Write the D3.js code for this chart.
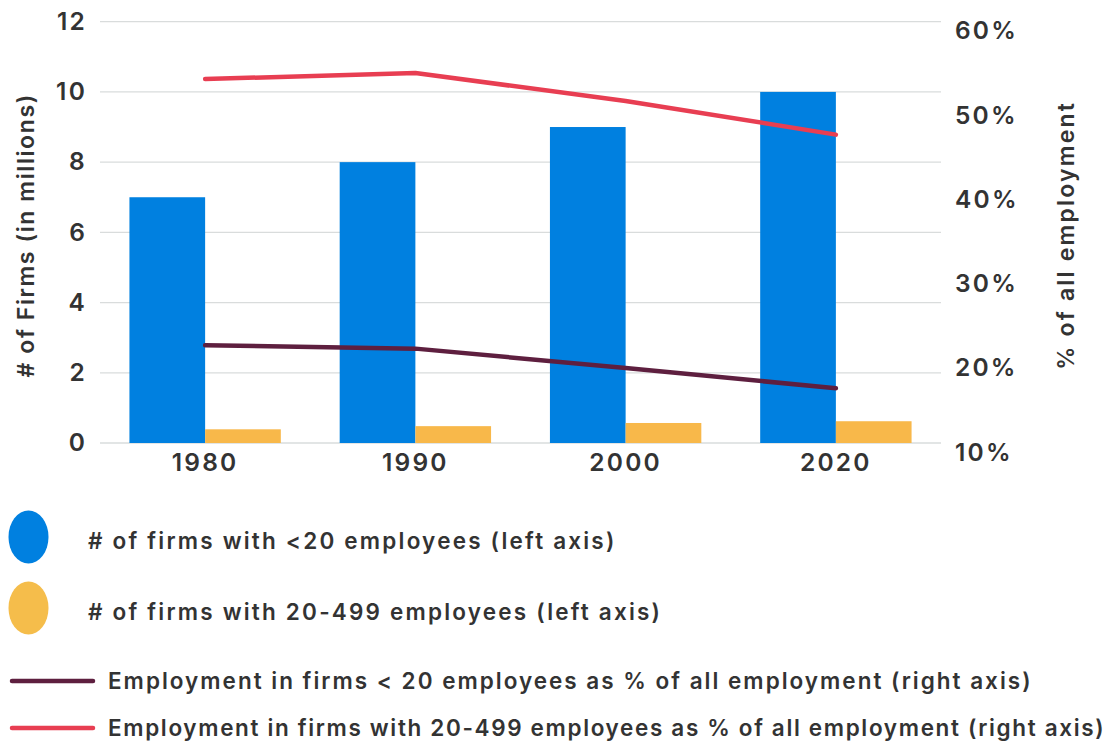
<!DOCTYPE html>
<html>
<head>
<meta charset="utf-8">
<script src="https://cdn.jsdelivr.net/npm/d3@7"></script>
<style>
  body { margin: 0; background: #fff; }
  text { font-family: "Inter", "Lato", sans-serif; fill: #333; }
</style>
</head>
<body>
<div id="chart"></div>
<script>
// data
var years = ["1980", "1990", "2000", "2020"];
var firmsSmall = [7, 8, 9, 10];            // millions, <20 employees
var firmsMid = [0.39, 0.48, 0.57, 0.62];    // millions, 20-499 employees
var empSmall = [21.6, 21.2, 18.9, 16.5];    // % of all employment, <20
var empMid = [53.2, 53.9, 50.6, 46.6];      // % of all employment, 20-499
var leftTicks = [0, 2, 4, 6, 8, 10, 12];
var rightTicks = [10, 20, 30, 40, 50, 60];

var legendItems = [
    {label: "# of firms with <20 employees (left axis)", type: "dot", color: "#0080e0", spacing: 2.2},
    {label: "# of firms with 20-499 employees (left axis)", type: "dot", color: "#f5bd4b", spacing: 2.2},
    {label: "Employment in firms < 20 employees as % of all employment (right axis)", type: "line", color: "#5e1f3f", spacing: 2.0},
    {label: "Employment in firms with 20-499 employees as % of all employment (right axis)", type: "line", color: "#e83e52", spacing: 1.65}
];

var W = 1109, H = 747;
var margin = {top: 21.7, left: 100, right: 168, bottom: 304};
var plotW = W - margin.left - margin.right,
    plotH = H - margin.top - margin.bottom;

var svg = d3.select("#chart").append("svg")
    .attr("width", W)
    .attr("height", H);

var g = svg.append("g")
    .attr("transform", "translate(" + margin.left + "," + margin.top + ")");

var x = d3.scaleBand().domain(years).range([0, plotW]).paddingInner(0.28).paddingOuter(0.14);
var x1 = d3.scaleBand().domain([0, 1]).range([0, x.bandwidth()]);
var yL = d3.scaleLinear().domain([0, 12]).range([plotH, 0]);
var yR = d3.scaleLinear().domain([10, 60]).range([plotH, 0]);

function tickStyle(s) {
    s.style("font-size", "24.5px").style("font-weight", 600)
        .style("letter-spacing", "2.2px").attr("fill", "#333");
}

// gridlines
g.append("g")
    .selectAll("line")
    .data(leftTicks)
    .enter().append("line")
    .attr("x1", 0)
    .attr("x2", plotW)
    .attr("y1", function(d) { return yL(d); })
    .attr("y2", function(d) { return yL(d); })
    .attr("stroke", "#d9dcdc")
    .attr("stroke-width", 1.3);

// left axis
var yAxisL = d3.axisLeft(yL).tickValues(leftTicks).tickSize(0).tickPadding(13);
g.append("g").call(yAxisL)
    .call(function(s) { s.select(".domain").remove(); })
    .selectAll("text").call(tickStyle);

// right axis
var yAxisR = d3.axisRight(yR).tickValues(rightTicks).tickSize(0).tickPadding(14)
    .tickFormat(function(d) { return d + "%"; });
g.append("g").attr("transform", "translate(" + plotW + ",0)").call(yAxisR)
    .call(function(s) { s.select(".domain").remove(); })
    .selectAll("text")
    .attr("dy", "0.7em")
    .call(tickStyle);

// x axis
var xAxis = d3.axisBottom(x).tickSize(0).tickPadding(11);
g.append("g").attr("transform", "translate(0," + plotH + ")").call(xAxis)
    .call(function(s) { s.select(".domain").remove(); })
    .selectAll("text").call(tickStyle);

// bars
var groups = g.selectAll(".grp").data(years)
    .enter().append("g")
    .attr("class", "grp")
    .attr("transform", function(d) { return "translate(" + x(d) + ",0)"; });

groups.append("rect")
    .attr("x", x1(0))
    .attr("width", x1.bandwidth())
    .attr("y", function(d, i) { return yL(firmsSmall[i]); })
    .attr("height", function(d, i) { return plotH - yL(firmsSmall[i]); })
    .attr("fill", "#0080e0");

groups.append("rect")
    .attr("x", x1(1))
    .attr("width", x1.bandwidth())
    .attr("y", function(d, i) { return yL(firmsMid[i]); })
    .attr("height", function(d, i) { return plotH - yL(firmsMid[i]); })
    .attr("fill", "#f8b84a");

// lines
var line = d3.line()
    .x(function(d, i) { return x(years[i]) + x.bandwidth() / 2; })
    .y(function(d) { return yR(d); });

g.append("path").datum(empSmall)
    .attr("d", line)
    .attr("fill", "none")
    .attr("stroke", "#5e1f3f")
    .attr("stroke-width", 4.5)
    .attr("stroke-linecap", "round")
    .attr("stroke-linejoin", "round");

g.append("path").datum(empMid)
    .attr("d", line)
    .attr("fill", "none")
    .attr("stroke", "#e83e52")
    .attr("stroke-width", 4.5)
    .attr("stroke-linecap", "round")
    .attr("stroke-linejoin", "round");

// axis titles
svg.append("text")
    .attr("transform", "translate(34," + (margin.top + plotH / 2 + 3) + ") rotate(-90)")
    .style("text-anchor", "middle")
    .style("font-size", "23px").style("font-weight", 600).style("letter-spacing", "1.6px")
    .text("# of Firms (in millions)");

svg.append("text")
    .attr("transform", "translate(1058," + (margin.top + plotH / 2 + 3) + ") rotate(-90)")
    .style("text-anchor", "middle")
    .attr("dy", "0.7em")
    .style("font-size", "23px").style("font-weight", 600).style("letter-spacing", "2.2px")
    .text("% of all employment");

// legend
var legendY = [537, 608, 681, 728];
var legend = svg.selectAll(".legend").data(legendItems)
    .enter().append("g")
    .attr("class", "legend")
    .attr("transform", function(d, i) { return "translate(0," + legendY[i] + ")"; });

legend.filter(function(d) { return d.type === "dot"; })
    .append("ellipse")
    .attr("cx", 28.5)
    .attr("rx", 20)
    .attr("ry", 26.5)
    .attr("fill", function(d) { return d.color; });

legend.filter(function(d) { return d.type === "line"; })
    .append("line")
    .attr("x1", 12).attr("x2", 93)
    .attr("stroke", function(d) { return d.color; })
    .attr("stroke-width", 4.5)
    .attr("stroke-linecap", "round");

legend.append("text")
    .attr("x", function(d) { return d.type === "dot" ? 88 : 108; })
    .attr("y", function(d) { return d.type === "dot" ? 4 : 0; })
    .attr("dy", "0.35em")
    .style("font-size", "22.5px").style("font-weight", 600)
    .style("letter-spacing", function(d) { return d.spacing + "px"; })
    .text(function(d) { return d.label; });
</script>
</body>
</html>
